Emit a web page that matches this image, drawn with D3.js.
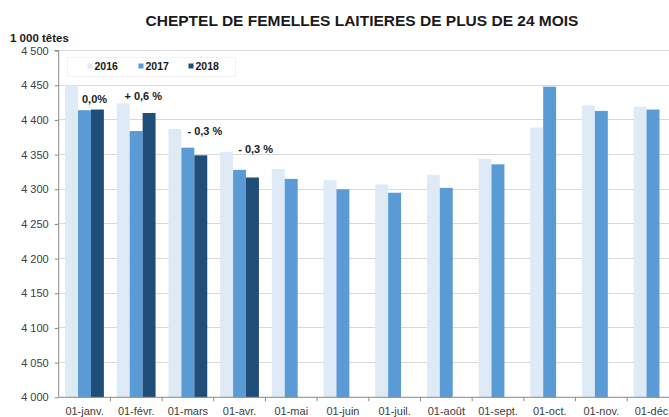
<!DOCTYPE html>
<html>
<head>
<meta charset="utf-8">
<script src="https://cdn.jsdelivr.net/npm/d3@7"></script>
<style>
  html, body { margin: 0; padding: 0; background: #fff; }
  svg { display: block; font-family: "Liberation Sans", Arial, sans-serif; }
</style>
</head>
<body>
<svg id="chart" width="669" height="417"></svg>
<script>
// ---- data ----
const categories = ["01-janv.", "01-févr.", "01-mars", "01-avr.", "01-mai", "01-juin",
                    "01-juil.", "01-août", "01-sept.", "01-oct.", "01-nov.", "01-déc."];
const seriesNames = ["2016", "2017", "2018"];
const values2016 = [4450, 4424, 4387, 4354, 4329, 4313, 4307, 4321, 4344, 4389, 4421, 4419];
const values2017 = [4414, 4384, 4360, 4328, 4315, 4300, 4295, 4302, 4336, 4448, 4413, 4415];
const values2018 = [4415, 4410, 4349, 4317, null, null, null, null, null, null, null, null];
const yTicks = [4000, 4050, 4100, 4150, 4200, 4250, 4300, 4350, 4400, 4450, 4500];
const annotationLabels = ["0,0%", "+ 0,6 %", "- 0,3 %", "- 0,3 %"];
const annotationCats = ["01-janv.", "01-févr.", "01-mars", "01-avr."];
const annotationValues = [4430, 4434, 4384, 4358];
const titleText = "CHEPTEL DE FEMELLES LAITIERES DE PLUS DE 24 MOIS";
const unitText = "1 000 têtes";

// ---- layout / style ----
const colors = ["#deeaf6", "#5b9bd5", "#1f4e79"];
const annotationDx = [10, 7, 17, 16];
const margin = { left: 58.7, right: 678.9, top: 50.6, bottom: 397.3 };

const svg = d3.select("#chart");
const x = d3.scaleBand().domain(categories).range([margin.left, margin.right]).paddingInner(0).paddingOuter(0);
const inner = d3.scaleBand().domain(seriesNames).range([6.4, x.bandwidth() - 6.5]).padding(0);
const y = d3.scaleLinear().domain([4000, 4500]).range([margin.bottom, margin.top]);

const fmt = v => d3.format(",")(v).replace(/,/g, " ");

// gridlines
svg.append("g").selectAll("line").data(yTicks.filter(t => t > 4000)).join("line")
  .attr("x1", margin.left).attr("x2", margin.right)
  .attr("y1", d => y(d)).attr("y2", d => y(d))
  .attr("stroke", "#d9d9d9").attr("stroke-width", 1).attr("shape-rendering", "crispEdges");

// legend box
svg.append("rect").attr("x", 67.5).attr("y", 57.5).attr("width", 168).attr("height", 19)
  .attr("fill", "#fff").attr("stroke", "#f2f2f2").attr("stroke-width", 1)
  .attr("shape-rendering", "crispEdges");

// bars
const series = [values2016, values2017, values2018];
series.forEach((vals, si) => {
  svg.append("g").selectAll("rect")
    .data(categories.map((c, i) => ({ c, v: vals[i] })).filter(d => d.v != null))
    .join("rect")
    .attr("x", d => x(d.c) + inner(seriesNames[si]))
    .attr("width", inner.bandwidth())
    .attr("y", d => y(d.v))
    .attr("height", d => y(4000) - y(d.v))
    .attr("fill", colors[si]);
});

// y axis
const yAxis = d3.axisLeft(y).tickValues(yTicks).tickFormat(fmt).tickSize(4).tickPadding(6);
const gy = svg.append("g").attr("transform", `translate(${margin.left},0)`).call(yAxis);
gy.select(".domain").attr("stroke", "#898989").attr("d", `M-4,${y(4500)}H0V${y(4000)}`);
gy.selectAll(".tick line").attr("stroke", "#898989");
gy.selectAll(".tick text").attr("fill", "#404040").style("font-size", "11px")
  .style("font-family", "'Liberation Sans', Arial, sans-serif");

// x axis
const xAxis = d3.axisBottom(x).tickSize(0).tickPadding(10);
const gx = svg.append("g").attr("transform", `translate(0,${margin.bottom})`).call(xAxis);
gx.select(".domain").attr("stroke", "#898989").attr("d", `M${margin.left},0H${margin.right}`);
gx.selectAll(".tick text").attr("fill", "#404040").style("font-size", "11px")
  .style("font-family", "'Liberation Sans', Arial, sans-serif");
// category separator ticks
svg.append("g").selectAll("line").data(categories.slice(1)).join("line")
  .attr("x1", d => x(d)).attr("x2", d => x(d))
  .attr("y1", margin.bottom).attr("y2", margin.bottom + 4)
  .attr("stroke", "#898989");

// legend items
const legX = [87.5, 138.5, 188.5];
seriesNames.forEach((s, i) => {
  svg.append("rect").attr("x", legX[i]).attr("y", 63.5).attr("width", 5).attr("height", 5).attr("fill", colors[i]);
  svg.append("text").attr("x", legX[i] + 7).attr("y", 70).text(s)
    .attr("font-size", "10.5px").attr("font-weight", "bold").attr("fill", "#1a1a1a");
});

// annotations
annotationLabels.forEach((lab, i) => {
  svg.append("text")
    .attr("x", x(annotationCats[i]) + x.bandwidth() / 2 + annotationDx[i])
    .attr("y", y(annotationValues[i]))
    .attr("dy", "0.35em")
    .attr("text-anchor", "middle")
    .attr("font-size", "11px").attr("font-weight", "bold").attr("fill", "#1a1a1a")
    .text(lab);
});

// title and unit
svg.append("text").attr("x", 362).attr("y", 26).attr("text-anchor", "middle")
  .attr("font-size", "15.5px").attr("font-weight", "bold").attr("fill", "#1a1a1a").text(titleText);
svg.append("text").attr("x", 10).attr("y", 42)
  .attr("font-size", "11.5px").attr("font-weight", "bold").attr("fill", "#1a1a1a").text(unitText);
</script>
</body>
</html>
